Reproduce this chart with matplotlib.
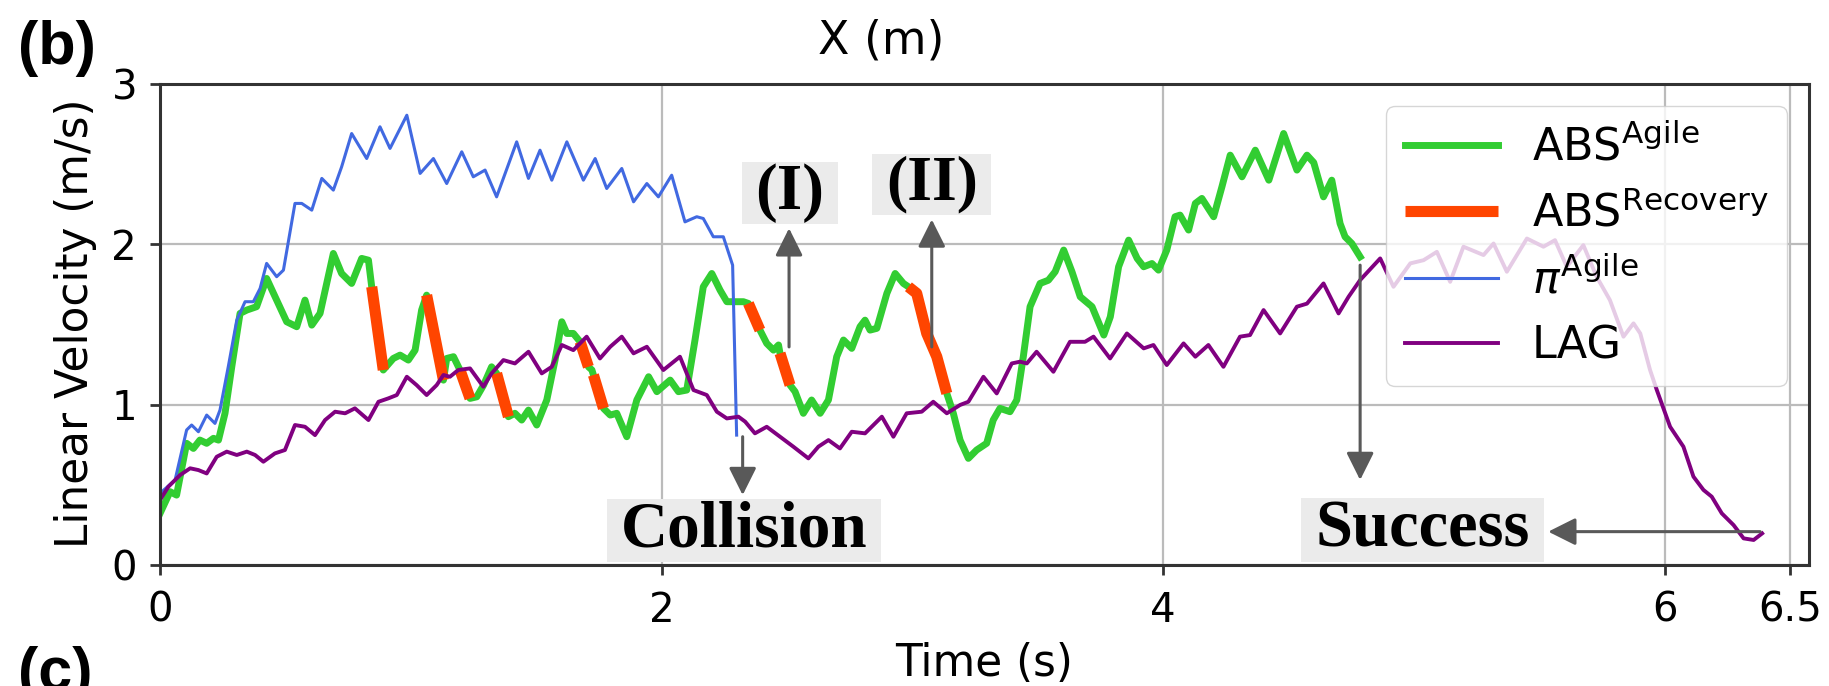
import matplotlib
matplotlib.use('Agg')
import matplotlib.pyplot as plt
import numpy as np
from matplotlib.path import Path

plt.rcParams['mathtext.fontset'] = 'dejavusans'

# ABS run: one velocity trace, with the recovery-mode spans drawn on top of it
abs_t = [0.000, 0.040, 0.066, 0.106, 0.133, 0.159, 0.186, 0.213, 0.233, 0.259,
         0.286, 0.319, 0.346, 0.385, 0.425, 0.465, 0.505, 0.545, 0.578, 0.605,
         0.638, 0.691, 0.724, 0.764, 0.804, 0.831, 0.844, 0.890, 0.930, 0.957,
         0.990, 1.017, 1.043, 1.063, 1.130, 1.143, 1.170, 1.196, 1.236, 1.263,
         1.290, 1.322, 1.342, 1.389, 1.415, 1.442, 1.469, 1.502, 1.542, 1.575,
         1.602, 1.622, 1.648, 1.675, 1.708, 1.722, 1.728, 1.768, 1.795, 1.821,
         1.861, 1.901, 1.948, 1.981, 2.034, 2.067, 2.100, 2.133, 2.166, 2.200,
         2.233, 2.260, 2.306, 2.326, 2.346, 2.392, 2.419, 2.446, 2.466, 2.472,
         2.512, 2.532, 2.565, 2.598, 2.632, 2.665, 2.698, 2.725, 2.758, 2.791,
         2.811, 2.831, 2.858, 2.898, 2.931, 2.964, 2.984, 3.017, 3.057, 3.097,
         3.137, 3.163, 3.190, 3.223, 3.256, 3.296, 3.322, 3.349, 3.389, 3.416,
         3.442, 3.469, 3.509, 3.542, 3.569, 3.603, 3.636, 3.669, 3.716, 3.763,
         3.789, 3.822, 3.862, 3.896, 3.922, 3.955, 3.981, 4.014, 4.047, 4.067,
         4.101, 4.128, 4.154, 4.201, 4.234, 4.267, 4.314, 4.367, 4.421, 4.480,
         4.533, 4.573, 4.600, 4.639, 4.672, 4.705, 4.725, 4.752, 4.785]
abs_v = [0.322, 0.457, 0.436, 0.759, 0.727, 0.779, 0.759, 0.790, 0.779, 0.946,
         1.236, 1.569, 1.590, 1.611, 1.787, 1.652, 1.517, 1.486, 1.652, 1.496,
         1.569, 1.943, 1.818, 1.756, 1.912, 1.901, 1.735, 1.216, 1.288, 1.309,
         1.278, 1.340, 1.590, 1.683, 1.153, 1.288, 1.299, 1.216, 1.039, 1.049,
         1.122, 1.236, 1.195, 0.925, 0.946, 0.904, 0.966, 0.873, 1.029, 1.278,
         1.517, 1.444, 1.444, 1.392, 1.236, 1.216, 1.185, 0.977, 0.935, 0.946,
         0.800, 1.029, 1.174, 1.081, 1.153, 1.081, 1.091, 1.403, 1.735, 1.818,
         1.714, 1.642, 1.642, 1.642, 1.631, 1.465, 1.382, 1.340, 1.372, 1.320,
         1.122, 1.081, 0.946, 1.029, 0.946, 1.029, 1.299, 1.403, 1.351, 1.486,
         1.527, 1.465, 1.476, 1.694, 1.818, 1.756, 1.735, 1.694, 1.444, 1.299,
         1.070, 0.946, 0.779, 0.665, 0.717, 0.759, 0.904, 0.977, 0.956, 1.029,
         1.299, 1.611, 1.756, 1.776, 1.829, 1.964, 1.829, 1.673, 1.611, 1.434,
         1.548, 1.860, 2.026, 1.912, 1.860, 1.880, 1.839, 1.964, 2.172, 2.182,
         2.089, 2.255, 2.286, 2.172, 2.359, 2.556, 2.421, 2.587, 2.400, 2.691,
         2.463, 2.556, 2.510, 2.296, 2.400, 2.130, 2.047, 2.005, 1.922]
recovery_start = [0.844, 1.063, 1.196, 1.342, 1.675, 1.728, 2.346, 2.472, 2.984]
recovery_end = [0.890, 1.130, 1.236, 1.389, 1.708, 1.768, 2.392, 2.512, 3.137]

# pi^Agile run (ends in a collision)
pi_t = [0.000, 0.060, 0.106, 0.126, 0.153, 0.186, 0.219, 0.239, 0.272, 0.306,
        0.339, 0.372, 0.399, 0.425, 0.465, 0.492, 0.538, 0.565, 0.605, 0.645,
        0.691, 0.724, 0.764, 0.824, 0.877, 0.917, 0.984, 1.037, 1.090, 1.143,
        1.203, 1.249, 1.296, 1.342, 1.422, 1.469, 1.515, 1.562, 1.622, 1.688,
        1.735, 1.781, 1.841, 1.888, 1.941, 1.987, 2.040, 2.093, 2.140, 2.166,
        2.206, 2.246, 2.283, 2.299]
pi_v = [0.447, 0.530, 0.842, 0.873, 0.831, 0.935, 0.883, 0.966, 1.236, 1.527,
        1.642, 1.642, 1.725, 1.881, 1.798, 1.839, 2.255, 2.255, 2.213, 2.411,
        2.338, 2.483, 2.691, 2.535, 2.733, 2.598, 2.805, 2.442, 2.535, 2.379,
        2.577, 2.421, 2.463, 2.296, 2.639, 2.411, 2.587, 2.400, 2.639, 2.400,
        2.535, 2.348, 2.473, 2.265, 2.379, 2.296, 2.431, 2.140, 2.172, 2.161,
        2.047, 2.047, 1.870, 0.810]

# LAG run
lag_t = [0.000, 0.033, 0.080, 0.120, 0.153, 0.186, 0.226, 0.266, 0.306, 0.346,
         0.379, 0.412, 0.458, 0.498, 0.538, 0.578, 0.618, 0.658, 0.698, 0.738,
         0.777, 0.831, 0.871, 0.910, 0.944, 0.984, 1.023, 1.063, 1.103, 1.130,
         1.156, 1.189, 1.236, 1.289, 1.322, 1.369, 1.415, 1.469, 1.522, 1.562,
         1.602, 1.648, 1.701, 1.754, 1.795, 1.841, 1.888, 1.941, 2.007, 2.073,
         2.127, 2.180, 2.220, 2.260, 2.306, 2.333, 2.372, 2.419, 2.472, 2.525,
         2.585, 2.625, 2.665, 2.711, 2.758, 2.811, 2.878, 2.924, 2.977, 3.037,
         3.083, 3.137, 3.190, 3.223, 3.283, 3.336, 3.396, 3.429, 3.456, 3.495,
         3.562, 3.628, 3.688, 3.722, 3.788, 3.855, 3.922, 3.961, 4.014, 4.081,
         4.128, 4.180, 4.240, 4.306, 4.346, 4.400, 4.466, 4.533, 4.573, 4.639,
         4.699, 4.739, 4.785, 4.865, 4.918, 4.985, 5.038, 5.091, 5.144, 5.197,
         5.277, 5.317, 5.370, 5.450, 5.516, 5.562, 5.609, 5.675, 5.728, 5.781,
         5.835, 5.875, 5.902, 5.941, 5.968, 6.021, 6.074, 6.114, 6.154, 6.187,
         6.227, 6.274, 6.314, 6.354, 6.388]
lag_v = [0.405, 0.488, 0.561, 0.603, 0.592, 0.571, 0.675, 0.707, 0.686, 0.707,
         0.686, 0.644, 0.696, 0.717, 0.873, 0.862, 0.810, 0.904, 0.956, 0.946,
         0.977, 0.904, 1.018, 1.039, 1.060, 1.174, 1.122, 1.060, 1.122, 1.185,
         1.174, 1.216, 1.226, 1.112, 1.195, 1.278, 1.257, 1.330, 1.195, 1.236,
         1.372, 1.340, 1.424, 1.288, 1.361, 1.424, 1.320, 1.361, 1.216, 1.299,
         1.091, 1.060, 0.956, 0.914, 0.925, 0.894, 0.821, 0.862, 0.800, 0.738,
         0.665, 0.738, 0.779, 0.727, 0.831, 0.821, 0.925, 0.800, 0.946, 0.956,
         1.018, 0.946, 0.998, 1.018, 1.174, 1.070, 1.257, 1.268, 1.257, 1.330,
         1.205, 1.392, 1.392, 1.424, 1.288, 1.444, 1.351, 1.372, 1.247, 1.382,
         1.299, 1.372, 1.236, 1.424, 1.434, 1.590, 1.444, 1.611, 1.630, 1.756,
         1.569, 1.673, 1.777, 1.912, 1.735, 1.881, 1.901, 1.953, 1.766, 1.985,
         1.933, 2.005, 1.829, 2.036, 1.985, 2.026, 1.860, 1.995, 1.798, 1.652,
         1.424, 1.507, 1.444, 1.216, 1.091, 0.862, 0.738, 0.551, 0.468, 0.426,
         0.322, 0.249, 0.166, 0.156, 0.197]

x_ticks = [0, 2, 4, 6, 6.5]
x_tick_labels = ['0', '2', '4', '6', '6.5']
y_ticks = [0, 1, 2, 3]

abs_t = np.array(abs_t)
abs_v = np.array(abs_v)
in_recovery = np.zeros(len(abs_t), dtype=bool)
for t0, t1 in zip(recovery_start, recovery_end):
    in_recovery |= (abs_t >= t0 - 1e-9) & (abs_t <= t1 + 1e-9)
recovery_v = np.where(in_recovery, abs_v, np.nan)


def wide_box(x0, y0, width, height, mutation_size):
    # plain rectangle, padded more on the sides than top/bottom
    padx = 0.21 * mutation_size
    pady = 0.02 * mutation_size
    x0, y0 = x0 - padx, y0 - pady
    x1, y1 = x0 + width + 2 * padx, y0 + height + 2 * pady
    return Path([(x0, y0), (x1, y0), (x1, y1), (x0, y1), (x0, y0)], closed=True)


fig = plt.figure(figsize=(18.29, 6.86), dpi=100)
ax = fig.add_axes([0.0875, 0.1764, 0.9016, 0.7012])

ax.plot(abs_t, abs_v, color='#32cd32', lw=5.0, label=r'ABS$^{\mathrm{Agile}}$')
ax.plot(abs_t, recovery_v, color='#ff4500', lw=8.0, solid_capstyle='butt',
        label=r'ABS$^{\mathrm{Recovery}}$')
ax.plot(pi_t, pi_v, color='#4169e1', lw=2.2, label=r'$\pi^{\mathrm{Agile}}$')
ax.plot(lag_t, lag_v, color='#800080', lw=2.8, label='LAG')

ax.set_xlim(0, 6.575)
ax.set_ylim(0, 3)
ax.set_xticks(x_ticks)
ax.set_xticklabels(x_tick_labels)
ax.set_yticks(y_ticks)
ax.tick_params(labelsize=29, length=7.5, width=2, color='#333333')
ax.tick_params(axis='x', pad=11)
ax.tick_params(axis='y', pad=9)
ax.grid(True, color='#bbbbbb', lw=1.6)
for spine in ax.spines.values():
    spine.set_linewidth(2.2)
    spine.set_color('#333333')

ax.set_xlabel('Time (s)', fontsize=31.5)
ax.xaxis.set_label_coords(0.5, -0.160)
ax.set_ylabel('Linear Velocity (m/s)', fontsize=31.5)
ax.yaxis.set_label_coords(-0.038, 0.502)

ax.legend(loc='upper right', fontsize=32, handlelength=2.1, handletextpad=0.75,
          borderpad=0.42, labelspacing=0.5, framealpha=0.8)

box = dict(boxstyle=wide_box, fc='#ebebeb', ec='none')
note_font = dict(family='Liberation Serif', weight='bold', ha='center',
                 bbox=box, zorder=6, clip_on=False)
ax.text(2.512, 2.32, '(I)', fontsize=47, va='center', **note_font)
ax.text(3.077, 2.374, '(II)', fontsize=46, va='center', **note_font)
ax.text(2.329, 0.114, 'Collision', fontsize=47, va='baseline', **note_font)
ax.text(5.034, 0.114, 'Success', fontsize=48, va='baseline', **note_font)

arrow = dict(arrowstyle='-|>', color='#595959', lw=2.2, mutation_scale=42,
             shrinkA=0, shrinkB=0)
ax.annotate('', xy=(2.508, 2.10), xytext=(2.508, 1.36), arrowprops=arrow, zorder=5)
ax.annotate('', xy=(3.077, 2.155), xytext=(3.077, 1.36), arrowprops=arrow, zorder=5)
ax.annotate('', xy=(2.323, 0.436), xytext=(2.323, 0.80), arrowprops=arrow, zorder=5)
ax.annotate('', xy=(4.785, 0.53), xytext=(4.785, 1.87), arrowprops=arrow, zorder=5)
ax.annotate('', xy=(5.535, 0.208), xytext=(6.38, 0.208), arrowprops=arrow, zorder=5)

fig.text(0.4817, 0.940, 'X (m)', fontsize=33, ha='center', va='center')
fig.text(0.031, 0.929, '(b)', fontsize=44, family='Liberation Sans',
         weight='bold', ha='center', va='center')
fig.text(0.030, 0.058, '(c)', fontsize=44, family='Liberation Sans',
         weight='bold', ha='center', va='top')

fig.savefig('out.png', dpi=100)
